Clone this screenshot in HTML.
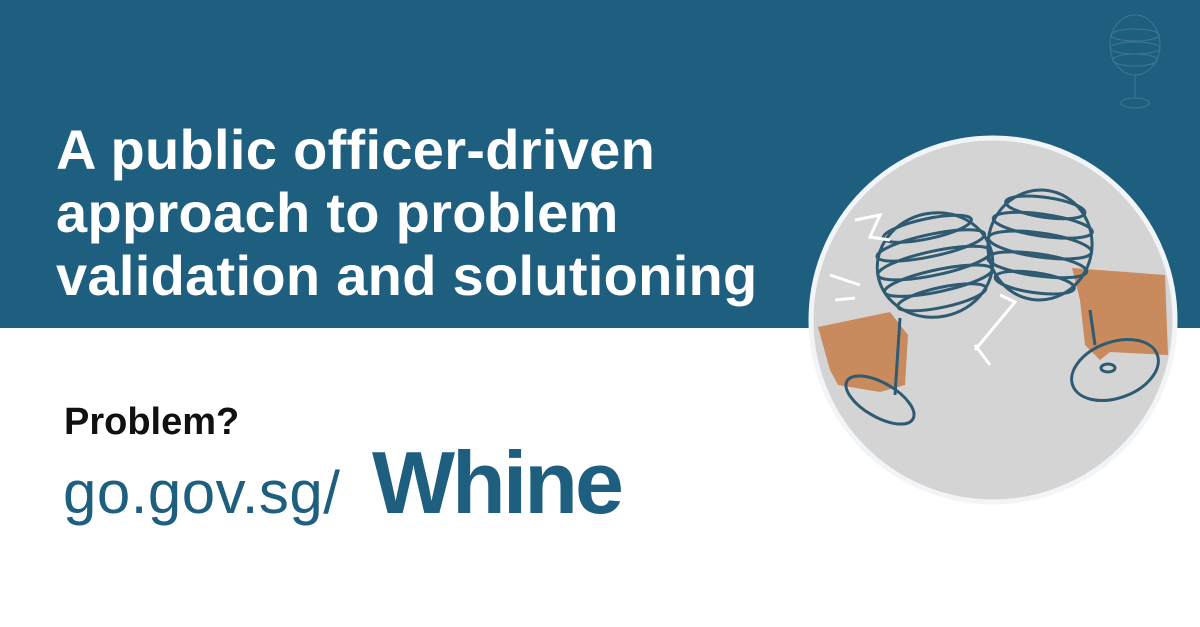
<!DOCTYPE html>
<html><head><meta charset="utf-8"><style>
body{margin:0;width:1200px;height:627px;overflow:hidden;background:#fff;font-family:"Liberation Sans",sans-serif;position:relative}
#band{position:absolute;left:0;top:0;width:1200px;height:328px;background:#1e5f80}
#title{position:absolute;left:56px;top:118px;color:#fff;font-weight:bold;font-size:56px;line-height:63px;letter-spacing:0.3px;white-space:nowrap}
#problem{position:absolute;left:64px;top:401px;font-weight:bold;font-size:38px;color:#111}
#url{position:absolute;left:63px;top:458px;font-size:60px;color:#1e5f80;letter-spacing:0.5px}
#whine{position:absolute;left:372px;top:432px;font-size:88px;font-weight:bold;color:#1e5f80;letter-spacing:-3px}
svg{position:absolute;left:0;top:0}
</style></head><body>
<div id="band"></div>
<div id="title">A public officer-driven<br>approach to problem<br>validation and solutioning</div>
<div id="problem">Problem?</div>
<div id="url">go.gov.sg/</div>
<div id="whine">Whine</div>
<svg width="1200" height="627">
<g fill="none" stroke="#5d86a0" stroke-width="1" opacity="0.6">
<ellipse cx="1135" cy="45" rx="25" ry="30"/><ellipse cx="1135" cy="35" rx="24" ry="6"/><ellipse cx="1135" cy="48" rx="25" ry="6"/><ellipse cx="1135" cy="60" rx="22" ry="6"/>
<line x1="1135" y1="75" x2="1135" y2="98"/><ellipse cx="1135" cy="103" rx="14" ry="5"/>
</g>
<circle cx="993" cy="320" r="182" fill="#d4d4d4" stroke="#f2f5f8" stroke-width="5"/>
<g fill="#c98a5e">
<path d="M818 327 L890 312 L908 335 L905 385 L880 392 L838 385 L830 370 Z"/>
<path d="M1072 268 L1165 275 L1168 355 L1110 352 L1100 360 L1085 345 L1080 300 Z"/>
</g>
<g fill="none" stroke="#2e5a72" stroke-width="3">
<g transform="rotate(-12 935 265)">
<ellipse cx="935" cy="265" rx="58" ry="52"/>
<ellipse cx="935" cy="228" rx="45" ry="10"/><ellipse cx="935" cy="245" rx="55" ry="11"/><ellipse cx="935" cy="263" rx="58" ry="12"/><ellipse cx="935" cy="281" rx="55" ry="11"/><ellipse cx="935" cy="298" rx="45" ry="10"/>
</g>
<g transform="rotate(8 1040 245)">
<ellipse cx="1040" cy="245" rx="52" ry="55"/>
<ellipse cx="1040" cy="207" rx="40" ry="10"/><ellipse cx="1040" cy="225" rx="50" ry="11"/><ellipse cx="1040" cy="245" rx="52" ry="12"/><ellipse cx="1040" cy="265" rx="50" ry="11"/><ellipse cx="1040" cy="283" rx="40" ry="10"/>
</g>
<line x1="900" y1="318" x2="895" y2="395"/>
<ellipse cx="880" cy="400" rx="38" ry="17" transform="rotate(30 880 400)"/>
<line x1="1090" y1="310" x2="1095" y2="345"/>
<ellipse cx="1115" cy="370" rx="45" ry="28" transform="rotate(-20 1115 370)"/>
<ellipse cx="1108" cy="368" rx="7" ry="4"/>
</g>
<g stroke="#fff" stroke-width="3" fill="none">
<polyline points="855,220 880,215 870,237 890,240"/><line x1="830" y1="275" x2="860" y2="285"/><line x1="835" y1="300" x2="855" y2="298"/>
<polyline points="975,350 1000,320 1015,302 1000,295"/><line x1="975" y1="345" x2="990" y2="365"/>
</g>
</svg>
</body></html>
